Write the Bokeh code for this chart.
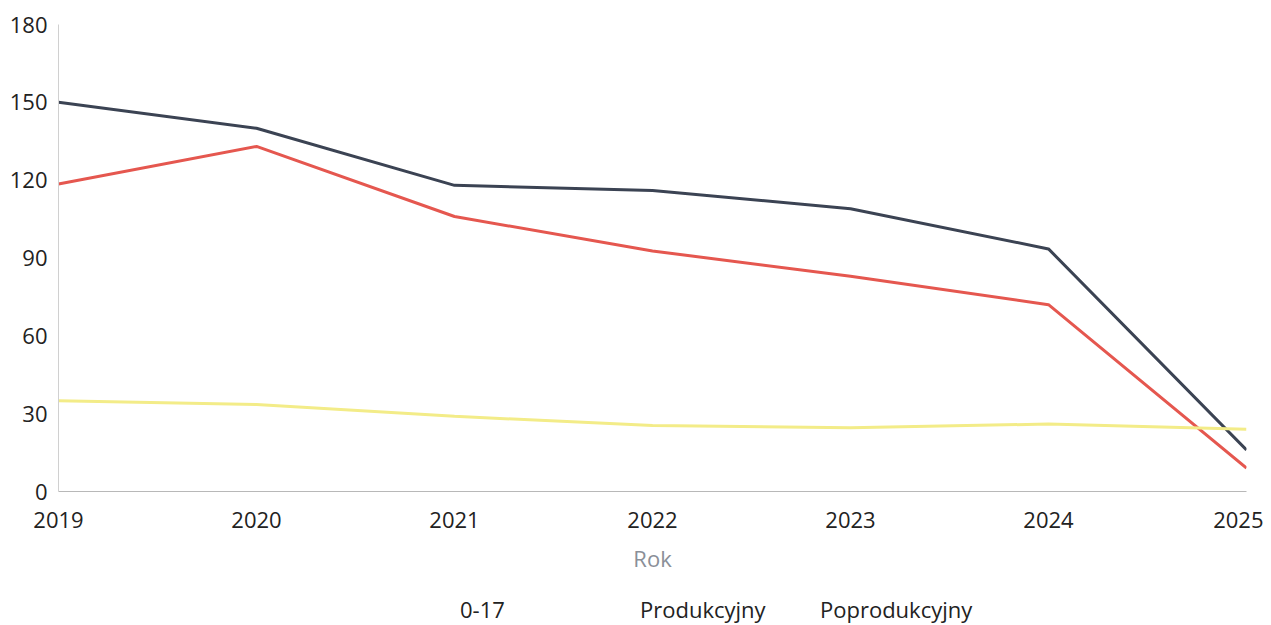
from bokeh.plotting import figure
from bokeh.models import Legend, LegendItem, Range1d, FixedTicker
from bokeh.layouts import column
from bokeh.embed import file_html
from bokeh.resources import INLINE

years = [2019, 2020, 2021, 2022, 2023, 2024, 2025]
age_0_17 = [150, 140, 118, 116, 109, 93.5, 16]
produkcyjny = [118.5, 133, 106, 92.7, 83, 72, 9]
poprodukcyjny = [35, 33.5, 29, 25.4, 24.6, 26, 24]
y_ticks = [0, 30, 60, 90, 120, 150, 180]
series_names = ["0-17", "Produkcyjny", "Poprodukcyjny"]
series_colors = ["#3b4353", "#e5574f", "#f3ec88"]

FONT = "Open Sans"

p = figure(width=1263, height=591, output_backend="svg", toolbar_location=None,
           x_range=Range1d(2019, 2025), y_range=Range1d(0, 180),
           min_border_left=58, min_border_right=17, min_border_top=24, min_border_bottom=100)
p.outline_line_color = None
p.xgrid.grid_line_color = None
p.ygrid.grid_line_color = None

for vals, col in zip([age_0_17, produkcyjny, poprodukcyjny], series_colors):
    p.line(years, vals, line_color=col, line_width=3)

p.xaxis.ticker = FixedTicker(ticks=years)
p.yaxis.ticker = FixedTicker(ticks=y_ticks)
for ax in (p.xaxis, p.yaxis):
    ax.major_tick_line_color = None
    ax.minor_tick_line_color = None
    ax.major_tick_out = 0
    ax.major_tick_in = 0
    ax.minor_tick_out = 0
    ax.major_label_text_font = FONT
    ax.major_label_text_font_size = "22px"
    ax.major_label_text_color = "#222222"
p.xaxis.axis_line_color = "#b8b8b8"
p.yaxis.axis_line_color = "#d0d0d0"
p.xaxis.major_label_standoff = 20
p.yaxis.major_label_standoff = 11
p.xaxis.axis_label = "Rok"
p.xaxis.axis_label_text_font = FONT
p.xaxis.axis_label_text_font_style = "normal"
p.xaxis.axis_label_text_font_size = "22px"
p.xaxis.axis_label_text_color = "#8a8f98"
p.xaxis.axis_label_standoff = 12

# legend strip below the chart
lf = figure(width=1263, height=34, output_backend="svg", toolbar_location=None,
            x_range=Range1d(0, 1), y_range=Range1d(0, 1),
            x_axis_location=None, y_axis_location=None, min_border=0)
lf.outline_line_color = None
lf.grid.grid_line_color = None
legend_renderers = [lf.line(x=[], y=[], line_color=col, line_width=3) for col in series_colors]

legend = Legend(items=[LegendItem(label=n, renderers=[r]) for n, r in zip(series_names, legend_renderers)],
                location=(378, 1), orientation="horizontal",
                label_text_font=FONT, label_text_font_size="22px", label_text_color="#222222",
                glyph_width=20, glyph_height=20, label_height=20, label_standoff=4,
                label_width=156, spacing=0,
                border_line_color=None, background_fill_alpha=0, padding=0, margin=0)
lf.add_layout(legend, "center")

open("out.html", "w").write(file_html(column(p, lf, spacing=0), INLINE))
